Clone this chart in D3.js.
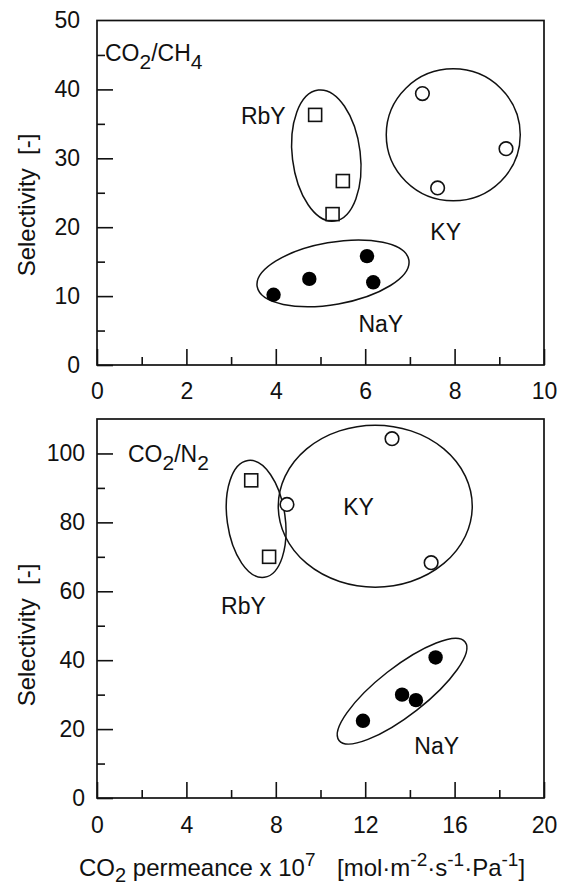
<!DOCTYPE html>
<html>
<head>
<meta charset="utf-8">
<script src="https://d3js.org/d3.v7.min.js"></script>
<style>
body { margin: 0; background: #fff; }
svg text { font-family: "Liberation Sans", Arial, sans-serif; fill: #111; }
.frame { fill: none; stroke: #111; stroke-width: 1.7; }
.tick line { stroke: #111; stroke-width: 1.6; }
.hull { fill: none; stroke: #111; stroke-width: 1.5; }
</style>
</head>
<body>
<svg id="chart" width="563" height="887"></svg>
<script>
// ---- top panel: CO2/CH4 ----
var ch4RbY = [[4.88, 36.3], [5.5, 26.7], [5.27, 21.9]];
var ch4KY  = [[7.28, 39.4], [7.62, 25.7], [9.15, 31.4]];
var ch4NaY = [[3.95, 10.2], [4.75, 12.5], [6.04, 15.8], [6.18, 12.0]];
var ch4XTicks = [0, 2, 4, 6, 8, 10];
var ch4YTicks = [0, 10, 20, 30, 40, 50];

// ---- bottom panel: CO2/N2 ----
var n2RbY = [[6.9, 92.2], [7.7, 70.0]];
var n2KY  = [[8.5, 85.2], [13.2, 104.3], [14.95, 68.3]];
var n2NaY = [[11.9, 22.4], [13.65, 30.0], [14.27, 28.4], [15.15, 40.8]];
var n2XTicks = [0, 4, 8, 12, 16, 20];
var n2YTicks = [0, 20, 40, 60, 80, 100];

// group outlines: centre (data), half-axes in px, rotation in degrees
var ch4Hulls = [[5.13, 30.4, 34, 66, -7], [7.97, 33.4, 67, 66, 0], [5.28, 13.3, 77, 31, -10]];
var n2Hulls  = [[7.12, 81.0, 29, 59, -8], [12.45, 84.7, 97, 81, 0], [13.65, 31.0, 80, 24, -38]];

var FS = "23px";
var svg = d3.select("#chart");

function panel(o) {
  var x = d3.scaleLinear().domain(o.xDom).range([97, 544]);
  var y = d3.scaleLinear().domain(o.yDom).range([o.bottom, o.top]);
  var g = svg.append("g");

  // minor ticks
  g.append("g").attr("transform", "translate(0," + o.bottom + ")")
    .call(d3.axisBottom(x).tickValues(o.xMinor).tickSizeInner(-8).tickSizeOuter(0).tickFormat(""))
    .call(function(a) { a.select(".domain").remove(); });
  g.append("g").attr("transform", "translate(97,0)")
    .call(d3.axisLeft(y).tickValues(o.yMinor).tickSizeInner(-8).tickSizeOuter(0).tickFormat(""))
    .call(function(a) { a.select(".domain").remove(); });

  // major ticks + labels
  var xa = g.append("g").attr("transform", "translate(0," + o.bottom + ")")
    .call(d3.axisBottom(x).tickValues(o.xTicks).tickSizeInner(-16).tickSizeOuter(0).tickPadding(o.xPad));
  var ya = g.append("g").attr("transform", "translate(97,0)")
    .call(d3.axisLeft(y).tickValues(o.yTicks).tickSizeInner(-16).tickSizeOuter(0).tickPadding(o.yPad));
  [xa, ya].forEach(function(a) {
    a.select(".domain").remove();
    a.selectAll("text").style("font-size", FS).attr("fill", "#111")
      .style("font-family", "'Liberation Sans', Arial, sans-serif");
  });
  // no tick mark at the top edge
  ya.selectAll(".tick").filter(function(d) { return d == o.yDom[1]; }).select("line").remove();

  g.append("rect").attr("class", "frame")
    .attr("x", 97).attr("y", o.top).attr("width", 544 - 97).attr("height", o.bottom - o.top);

  // group outlines
  g.selectAll("ellipse.hull").data(o.hulls).enter().append("ellipse")
    .attr("class", "hull")
    .attr("cx", 0).attr("cy", 0)
    .attr("rx", function(d) { return d[2]; })
    .attr("ry", function(d) { return d[3]; })
    .attr("transform", function(d) { return "translate(" + x(d[0]) + "," + y(d[1]) + ") rotate(" + d[4] + ")"; });

  // RbY squares
  g.selectAll("rect.sq").data(o.rby).enter().append("rect")
    .attr("x", function(d) { return x(d[0]) - 6.5; })
    .attr("y", function(d) { return y(d[1]) - 6.5; })
    .attr("width", 13).attr("height", 13)
    .attr("fill", "#fff").attr("stroke", "#111").attr("stroke-width", 1.6);
  // KY open circles
  g.selectAll("circle.ky").data(o.ky).enter().append("circle")
    .attr("cx", function(d) { return x(d[0]); })
    .attr("cy", function(d) { return y(d[1]); })
    .attr("r", 6.8).attr("fill", "#fff").attr("stroke", "#111").attr("stroke-width", 1.6);
  // NaY filled circles
  g.selectAll("circle.na").data(o.nay).enter().append("circle")
    .attr("cx", function(d) { return x(d[0]); })
    .attr("cy", function(d) { return y(d[1]); })
    .attr("r", 7.2).attr("fill", "#000");

  // group labels
  o.labels.forEach(function(l) {
    g.append("text").attr("x", x(l[1])).attr("y", y(l[2])).attr("dy", "0.36em")
      .attr("text-anchor", "middle").style("font-size", FS).text(l[0]);
  });

  // gas pair
  var t = g.append("text").attr("x", o.pairX).attr("y", o.pairY).style("font-size", FS);
  t.append("tspan").text("CO");
  t.append("tspan").attr("dy", 8).style("font-size", "21px").text("2");
  t.append("tspan").attr("dy", -8).text("/" + o.pair[0]);
  t.append("tspan").attr("dy", 8).style("font-size", "21px").text(o.pair[1]);

  // y title
  g.append("text")
    .attr("transform", "translate(35," + o.yTitleY + ") rotate(-90)")
    .attr("text-anchor", "middle").style("font-size", "24px").text("Selectivity\u00a0\u00a0[-]");
  return { x: x, y: y };
}

panel({
  xDom: [0, 10], yDom: [0, 50], top: 20.5, bottom: 365,
  xTicks: ch4XTicks, yTicks: ch4YTicks,
  xMinor: [1, 3, 5, 7, 9], yMinor: [5, 15, 25, 35, 45],
  xPad: 18, yPad: 17,
  rby: ch4RbY, ky: ch4KY, nay: ch4NaY, hulls: ch4Hulls,
  labels: [["RbY", 3.72, 36.2], ["KY", 7.8, 19.4], ["NaY", 6.35, 6.0]],
  pair: ["CH", "4"], pairX: 105, pairY: 61, yTitleY: 205
});

panel({
  xDom: [0, 20], yDom: [0, 110], top: 419, bottom: 798,
  xTicks: n2XTicks, yTicks: n2YTicks,
  xMinor: [2, 6, 10, 14, 18], yMinor: [10, 30, 50, 70, 90],
  xPad: 19, yPad: 12,
  rby: n2RbY, ky: n2KY, nay: n2NaY, hulls: n2Hulls,
  labels: [["KY", 11.7, 84.5], ["RbY", 6.55, 55.8], ["NaY", 15.2, 15.3]],
  pair: ["N", "2"], pairX: 128, pairY: 462, yTitleY: 635
});

// x title
var xt = svg.append("text").attr("x", 79).attr("y", 876).style("font-size", "24px");
xt.append("tspan").text("CO");
xt.append("tspan").attr("dy", 6).style("font-size", "20px").text("2");
xt.append("tspan").attr("dy", -6).text(" permeance x 10");
xt.append("tspan").attr("dy", -10).style("font-size", "19px").text("7");
var xu = svg.append("text").attr("x", 337).attr("y", 876).style("font-size", "24px");
xu.append("tspan").text("[mol\u00b7m");
xu.append("tspan").attr("dy", -10).style("font-size", "19px").text("-2");
xu.append("tspan").attr("dy", 10).text("\u00b7s");
xu.append("tspan").attr("dy", -10).style("font-size", "19px").text("-1");
xu.append("tspan").attr("dy", 10).text("\u00b7Pa");
xu.append("tspan").attr("dy", -10).style("font-size", "19px").text("-1");
xu.append("tspan").attr("dy", 10).text("]");
</script>
</body>
</html>
